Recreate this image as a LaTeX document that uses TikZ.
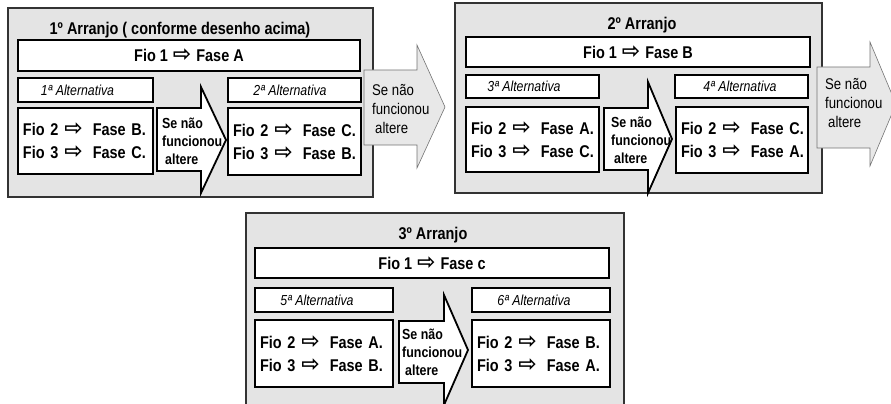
\documentclass[tikz,border=0pt]{standalone}
\usepackage{fontspec}
\setmainfont{Liberation Sans}[FakeStretch=0.85]
\newfontfamily\symfont{DejaVu Sans}
\definecolor{fundopainel}{HTML}{E4E4E4}
\definecolor{fundoseta}{HTML}{E8E8E8}
\newcommand{\seta}{{\symfont\fontsize{22}{22}\selectfont ⇨}}
\newcommand{\fio}[2]{\mbox{Fio #1\hspace{6pt}\seta\hspace{10pt}#2}}
\tikzset{
  painel/.style={draw=black!80, line width=1.3pt, fill=fundopainel, inner sep=0},
  caixa/.style={draw, line width=1.8pt, fill=white, inner sep=0},
  ligacoes/.style={caixa, align=left, inner xsep=5pt, font=\fontsize{17}{23}\selectfont\bfseries},
  titulo/.style={inner sep=0, font=\fontsize{17}{19}\selectfont\bfseries},
  altern/.style={inner sep=0, font=\fontsize{14.5}{16}\selectfont\itshape},
  setabranca/.style={draw, line width=1.8pt, fill=white, line join=miter},
  setacinza/.style={draw=black!55, line width=0.6pt, fill=fundoseta},
  textoseta/.style={inner sep=0, anchor=west, align=left, font=\fontsize{14.6}{18}\selectfont\bfseries},
  textocinza/.style={inner sep=0, anchor=west, align=left, font=\fontsize{15.5}{19}\selectfont}
}
\begin{document}
\begin{tikzpicture}[x=1pt, y=-1pt]
\useasboundingbox (0,0) rectangle (891,404);
% 1o arranjo
\node[painel, minimum width=365, minimum height=189](p1) at (190.5,102.5) {};
\node[titulo](t1) at (180,30) {1º Arranjo ( conforme desenho acima)};
\node[caixa, minimum width=342, minimum height=31, titulo](f1a) at (189,55.5) {Fio 1\hspace{5pt}\seta\hspace{5pt}Fase A};
\node[caixa, minimum width=135, minimum height=24](alt1) at (85.5,90) {};
\node[altern](alt1txt) at (77.5,90) {1ª Alternativa};
\node[ligacoes, text width=125, minimum height=66](lig1) at (85.5,141) {\fio{2}{Fase B.}\\\fio{3}{Fase C.}};
\node[caixa, minimum width=133, minimum height=24](alt2) at (294.5,90) {};
\node[altern](alt2txt) at (290,90) {2ª Alternativa};
\node[ligacoes, text width=123, minimum height=67](lig2) at (294.5,141.5) {\fio{2}{Fase C.}\\\fio{3}{Fase B.}};
%
\draw[setabranca] (157,108) -- (201,108) -- (201,87) -- (226,140) -- (201,193) -- (201,171) -- (157,171) -- cycle;
\node[textoseta](s1) at (162,141) {Se não\\funcionou\\\hspace{3pt}altere};
% 2o arranjo
\node[painel, minimum width=367, minimum height=190](p2) at (638.5,98) {};
\draw[setacinza] (364,70) -- (417,70) -- (417,45) -- (445,107) -- (417,168) -- (417,145) -- (364,145) -- cycle;
\node[textocinza](sa) at (372,109) {Se não\\funcionou\\\hspace{3pt}altere};
\node[titulo](t2) at (642,25) {2º Arranjo};
\node[caixa, minimum width=344, minimum height=30, titulo](f1b) at (638,52) {Fio 1\hspace{5pt}\seta\hspace{5pt}Fase B};
\node[caixa, minimum width=133, minimum height=23](alt3) at (532.5,86.5) {};
\node[altern](alt3txt) at (524,86.5) {3ª Alternativa};
\node[ligacoes, text width=123, minimum height=65](lig3) at (532.5,139.5) {\fio{2}{Fase A.}\\\fio{3}{Fase C.}};
\node[caixa, minimum width=133, minimum height=23](alt4) at (741.5,86.5) {};
\node[altern](alt4txt) at (740,86.5) {4ª Alternativa};
\node[ligacoes, text width=122, minimum height=66](lig4) at (742,140) {\fio{2}{Fase C.}\\\fio{3}{Fase A.}};
%
\draw[setabranca] (604,108) -- (648,108) -- (648,82) -- (672,139) -- (648,193) -- (648,170) -- (604,170) -- cycle;
\node[textoseta](s2) at (611,140) {Se não\\funcionou\\\hspace{3pt}altere};
%
\draw[setacinza] (817,67) -- (870,67) -- (870,42) -- (896,104) -- (870,166) -- (870,148) -- (817,148) -- cycle;
\node[textocinza](sb) at (825,103) {Se não\\funcionou\\\hspace{3pt}altere};
% 3o arranjo
\node[painel, minimum width=378, minimum height=207](p3) at (435,316.5) {};
\node[titulo](t3) at (433,235) {3º Arranjo};
\node[caixa, minimum width=354, minimum height=30, titulo](f1c) at (432,263) {Fio 1\hspace{5pt}\seta\hspace{5pt}Fase c};
\node[caixa, minimum width=138, minimum height=24](alt5) at (324,300) {};
\node[altern](alt5txt) at (317,300) {5ª Alternativa};
\node[ligacoes, text width=128, minimum height=67](lig5) at (324,353.5) {\fio{2}{Fase A.}\\\fio{3}{Fase B.}};
\node[caixa, minimum width=138, minimum height=24](alt6) at (541,300) {};
\node[altern](alt6txt) at (534,300) {6ª Alternativa};
\node[ligacoes, text width=128, minimum height=67](lig6) at (541,353.5) {\fio{2}{Fase B.}\\\fio{3}{Fase A.}};
%
\draw[setabranca] (399,321) -- (444,321) -- (444,295) -- (468,350) -- (444,405) -- (444,383) -- (399,383) -- cycle;
\node[textoseta](s3) at (402,352) {Se não\\funcionou\\\hspace{3pt}altere};
\end{tikzpicture}
\end{document}
